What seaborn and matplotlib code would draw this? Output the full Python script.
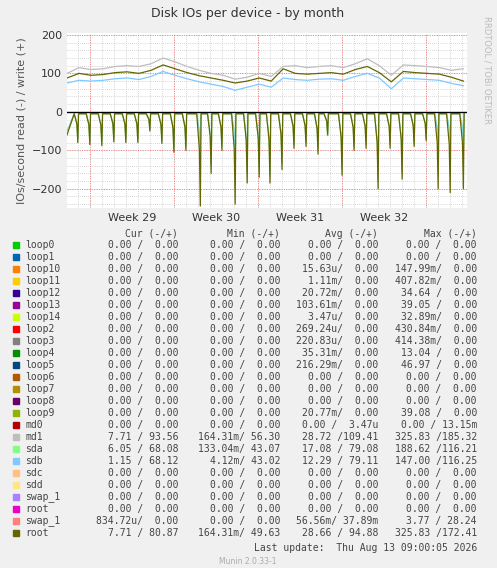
import numpy as np
import pandas as pd
import matplotlib
matplotlib.use("Agg")
import matplotlib.pyplot as plt
import seaborn as sns

# days since start of graph (graph spans ~33.3 days)
days = list(range(34))
md1_write = [100, 115, 110, 112, 118, 120, 118, 125, 140, 130, 118, 108, 100, 95, 85, 90, 100,
             92, 118, 120, 115, 118, 120, 115, 125, 138, 120, 95, 122, 120, 118, 115, 108, 112]
root_write = [88, 100, 95, 97, 102, 104, 100, 108, 122, 112, 102, 94, 88, 82, 75, 80, 88,
              80, 112, 100, 98, 100, 102, 98, 110, 118, 102, 78, 105, 102, 100, 98, 90, 80]
sdb_write = [75, 82, 80, 82, 86, 88, 84, 92, 105, 95, 86, 78, 72, 66, 56, 64, 72,
             64, 88, 84, 82, 85, 86, 82, 92, 100, 88, 60, 88, 86, 84, 82, 74, 68]

# daily read spikes: day of spike and depth
spike_days = [0.9, 1.9, 2.9, 3.9, 4.9, 5.9, 6.9, 7.9, 8.9, 9.9, 11.1, 12.0, 12.9, 14.0,
              15.0, 16.0, 16.9, 17.9, 18.9, 19.9, 20.9, 21.7, 22.9, 23.9, 24.9,
              25.9, 26.9, 27.9, 28.9, 29.9, 30.9, 31.9, 33.0]
root_spike = [-80, -85, -88, -78, -80, -80, -50, -82, -105, -100, -245, -160, -100, -240,
              -185, -170, -185, -150, -95, -90, -110, -60, -165, -100, -95,
              -200, -95, -175, -90, -75, -200, -210, -200]
sda_spike = [-70, -75, -78, -70, -72, -72, -45, -75, -95, -90, -125, -140, -90, -120,
             -160, -150, -165, -135, -85, -80, -100, -62, -150, -90, -85,
             -180, -85, -160, -82, -70, -100, -100, -100]

legend_names = ["loop0", "loop1", "loop10", "loop11", "loop12", "loop13", "loop14", "loop2",
                "loop3", "loop4", "loop5", "loop6", "loop7", "loop8", "loop9", "md0", "md1",
                "sda", "sdb", "sdc", "sdd", "swap_1", "root", "swap_1", "root"]
legend_colors = ["#00CC00", "#0066B3", "#FF8000", "#FFCC00", "#330099", "#990099", "#CCFF00",
                 "#FF0000", "#808080", "#008F00", "#00487D", "#B35A00", "#B38F00", "#6B006B",
                 "#8FB300", "#B30000", "#BEBEBE", "#80FF80", "#80C9FF", "#FFC080", "#FFE680",
                 "#AA80FF", "#EE00CC", "#FF8080", "#666600"]
cur_col = ["0.00 /  0.00"] * 16 + ["7.71 / 93.56", "6.05 / 68.08", "1.15 / 68.12",
           "0.00 /  0.00", "0.00 /  0.00", "0.00 /  0.00", "0.00 /  0.00",
           "834.72u/  0.00", "7.71 / 80.87"]
min_col = ["0.00 /  0.00"] * 16 + ["164.31m/ 56.30", "133.04m/ 43.07", "4.12m/ 43.02",
           "0.00 /  0.00", "0.00 /  0.00", "0.00 /  0.00", "0.00 /  0.00",
           "0.00 /  0.00", "164.31m/ 49.63"]
avg_col = ["0.00 /  0.00", "0.00 /  0.00", "15.63u/  0.00", "1.11m/  0.00", "20.72m/  0.00",
           "103.61m/  0.00", "3.47u/  0.00", "269.24u/  0.00", "220.83u/  0.00",
           "35.31m/  0.00", "216.29m/  0.00", "0.00 /  0.00", "0.00 /  0.00", "0.00 /  0.00",
           "20.77m/  0.00", "0.00 /  3.47u", "28.72 /109.41", "17.08 / 79.08",
           "12.29 / 79.11", "0.00 /  0.00", "0.00 /  0.00", "0.00 /  0.00", "0.00 /  0.00",
           "56.56m/ 37.89m", "28.66 / 94.88"]
max_col = ["0.00 /  0.00", "0.00 /  0.00", "147.99m/  0.00", "407.82m/  0.00", "34.64 /  0.00",
           "39.05 /  0.00", "32.89m/  0.00", "430.84m/  0.00", "414.38m/  0.00",
           "13.04 /  0.00", "46.97 /  0.00", "0.00 /  0.00", "0.00 /  0.00", "0.00 /  0.00",
           "39.08 /  0.00", "0.00 / 13.15m", "325.83 /185.32", "188.62 /116.21",
           "147.00 /116.25", "0.00 /  0.00", "0.00 /  0.00", "0.00 /  0.00", "0.00 /  0.00",
           "3.77 / 28.24", "325.83 /172.41"]

W, H = 497, 568
fig = plt.figure(figsize=(W / 100, H / 100), dpi=100, facecolor="#F0F0F0")
ax = fig.add_axes([67 / W, 1 - 208 / H, 400 / W, 175 / H])
ax.set_facecolor("white")

write_df = pd.DataFrame({"day": days, "md1": md1_write, "root": root_write, "sdb": sdb_write})

# read series: baseline between spikes, sharp spike at each day
rd = []
base = -5
for d, r, s in zip(spike_days, root_spike, sda_spike):
    rd.append((d - 0.3, base, base))
    rd.append((d - 0.08, r * 0.4, s * 0.4))
    rd.append((d, r, s))
    rd.append((d + 0.06, base, base))
read_df = pd.DataFrame(rd, columns=["day", "root", "sda"])
read_df = pd.concat([pd.DataFrame([[0, -60, -50]], columns=read_df.columns), read_df])

for y in range(-240, 205, 20):
    ax.axhline(y, color="#C8C8C8", lw=0.6, ls=(0, (1, 1.5)), zorder=0)
for x in np.arange(0.9, 33.3, 1.0):
    ax.axvline(x, color="#C8C8C8", lw=0.6, ls=(0, (1, 1.5)), zorder=0)
for y in [-200, -100, 100, 200]:
    ax.axhline(y, color="#F08080", lw=0.7, ls=(0, (1, 1.5)), zorder=0)
for x in week_starts if False else [1.9, 8.9, 15.9, 22.9, 29.9]:
    ax.axvline(x, color="#F08080", lw=0.7, ls=(0, (1, 1.5)), zorder=0)

lw = 0.9
sns.lineplot(data=write_df, x="day", y="md1", color="#BEBEBE", lw=lw, ax=ax)
sns.lineplot(data=write_df, x="day", y="sdb", color="#80C9FF", lw=lw, ax=ax)
sns.lineplot(data=write_df, x="day", y="root", color="#666600", lw=lw, ax=ax)
sns.lineplot(data=read_df, x="day", y="sda", color="#80FF80", lw=lw, ax=ax)
sns.lineplot(data=read_df, x="day", y="sda", color="#80C9FF", lw=lw * 0.6, ax=ax)
sns.lineplot(data=read_df, x="day", y="root", color="#666600", lw=lw, ax=ax)
ax.axhline(0, color="black", lw=1)

ax.set_xlim(0, 33.3)
ax.set_ylim(-250, 205)
week_starts = [1.9, 8.9, 15.9, 22.9, 29.9]
ax.set_xticks([w + 3.5 for w in week_starts[:4]])
ax.set_xticklabels(["Week 29", "Week 30", "Week 31", "Week 32"])
ax.set_yticks([-200, -100, 0, 100, 200])
ax.tick_params(length=0, labelsize=8, colors="#333333")
for s in ax.spines.values():
    s.set_visible(False)
ax.set_xlabel("")
ax.set_ylabel("IOs/second read (-) / write (+)", fontsize=8, color="#555555")

fig.text(248 / W, 1 - 13 / H, "Disk IOs per device - by month", ha="center", va="center",
         fontsize=9, color="#333333")
fig.text(487 / W, 1 - 70 / H, "RRDTOOL / TOBI OETIKER", rotation=270, ha="center",
         va="center", fontsize=6, color="#BBBBBB")

mono = dict(family="DejaVu Sans Mono", fontsize=7, color="#444444", va="center")
cols = [(178, cur_col, "Cur (-/+)"), (280, min_col, "Min (-/+)"),
        (378, avg_col, "Avg (-/+)"), (477, max_col, "Max (-/+)")]
for xr, _, hdr in cols:
    fig.text(xr / W, 1 - 234 / H, hdr, ha="right", **mono)
for i, name in enumerate(legend_names):
    y = 1 - (245 + 12 * i) / H
    fig.patches.append(plt.Rectangle((13 / W, y - 3 / H), 6 / W, 6 / H, color=legend_colors[i],
                                     transform=fig.transFigure, figure=fig))
    fig.text(25 / W, y, name, ha="left", **mono)
    for xr, vals, _ in cols:
        fig.text(xr / W, y, vals[i], ha="right", **mono)
fig.text(477 / W, 1 - 548 / H, "Last update:  Thu Aug 13 09:00:05 2026", ha="right", **mono)
fig.text(248 / W, 1 - 561 / H, "Munin 2.0.33-1", ha="center", va="center", fontsize=5.5,
         color="#AAAAAA")

fig.savefig("out.png", dpi=100, facecolor=fig.get_facecolor())
